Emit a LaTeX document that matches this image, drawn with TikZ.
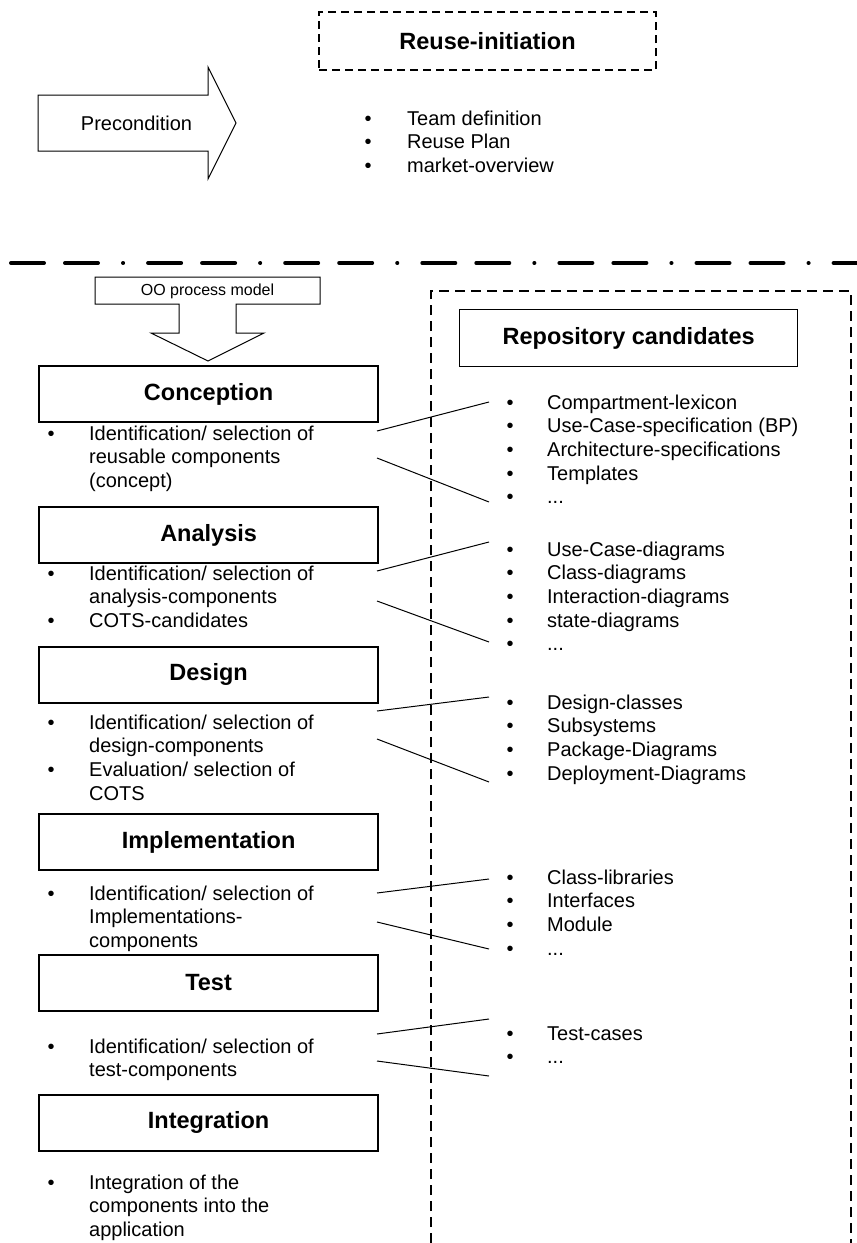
\documentclass[tikz,border=0pt]{standalone}
\usepackage{fontspec}
\setmainfont{Liberation Sans}
\newcommand{\bodyfont}{\fontsize{20}{23.7}\selectfont}
\newcommand{\headfont}{\fontsize{23.5}{28}\selectfont\bfseries}
\tikzset{
  phase/.style={draw, line width=2.2pt, minimum width=339pt, minimum height=56pt,
    inner sep=0pt, font=\headfont, anchor=north west},
  lst/.style={anchor=base west, inner sep=0pt, font=\bodyfont, align=left},
  conn/.style={line width=1pt},
  thinshape/.style={line width=1pt},
}
\begin{document}
\begin{tikzpicture}[x=1pt,y=-1pt]
\useasboundingbox (0,0) rectangle (857,1243);

% top: reuse initiation
\node[draw, line width=2pt, dash pattern=on 8pt off 5pt, minimum width=337pt,
  minimum height=58pt, inner sep=0pt, anchor=north west, font=\headfont]
  (reuse) at (318,11) {Reuse-initiation};

% precondition arrow
\draw[thinshape] (38,95) -- (208,95) -- (208,67) -- (236,123) -- (208,179)
  -- (208,151) -- (38,151) -- cycle;
\node[font=\bodyfont, inner sep=0pt] (precond) at (136.5,123) {Precondition};

\node[lst] (toplist) at (364.5,125) {\begin{tabular}[t]{@{}p{42.5pt}@{}l@{}}
\textbullet & Team definition\\
\textbullet & Reuse Plan\\
\textbullet & market-overview\end{tabular}};

% separator
\coordinate (sepL) at (11,263);
\coordinate (sepR) at (862,263);
\draw[line width=4pt, line cap=round,
  dash pattern=on 33pt off 21pt on 33pt off 25pt on 0.1pt off 25pt] (sepL) -- (sepR);

% OO process model arrow
\draw[thinshape] (95,277) -- (320,277) -- (320,304) -- (236,304) -- (236,333)
  -- (264,333) -- (208,361) -- (151,333) -- (179,333) -- (179,304) -- (95,304) -- cycle;
\node[font=\fontsize{16}{19}\selectfont, inner sep=0pt] (oo) at (207.5,291) {OO process model};

% repository dashed frame
\draw[line width=1.4pt, dash pattern=on 10pt off 6pt] (431,1243) -- (431,291) -- (851,291) -- (851,1243);
\node[draw, line width=1.3pt, minimum width=338pt, minimum height=57pt, inner sep=0pt,
  anchor=north west, font=\headfont] (repo) at (459,309) {Repository candidates};

% phases
\node[phase] (conc) at (38,365) {Conception};
\node[phase] (anal) at (38,506) {Analysis};
\node[phase] (desg) at (38,645.5) {Design};
\node[phase] (impl) at (38,813) {Implementation};
\node[phase] (test) at (38,953.5) {Test};
\node[phase] (intg) at (38,1093.5) {Integration};

% left lists
\node[lst] (lc) at (47.5,440) {\begin{tabular}[t]{@{}p{41.5pt}@{}l@{}}
\textbullet & Identification/ selection of\\
 & reusable components\\
 & (concept)\end{tabular}};
\node[lst] (la) at (47.5,580) {\begin{tabular}[t]{@{}p{41.5pt}@{}l@{}}
\textbullet & Identification/ selection of\\
 & analysis-components\\
\textbullet & COTS-candidates\end{tabular}};
\node[lst] (ld) at (47.5,729) {\begin{tabular}[t]{@{}p{41.5pt}@{}l@{}}
\textbullet & Identification/ selection of\\
 & design-components\\
\textbullet & Evaluation/ selection of\\
 & COTS\end{tabular}};
\node[lst] (li) at (47.5,900) {\begin{tabular}[t]{@{}p{41.5pt}@{}l@{}}
\textbullet & Identification/ selection of\\
 & Implementations-\\
 & components\end{tabular}};
\node[lst] (lt) at (47.5,1053) {\begin{tabular}[t]{@{}p{41.5pt}@{}l@{}}
\textbullet & Identification/ selection of\\
 & test-components\end{tabular}};
\node[lst] (lg) at (47.5,1189) {\begin{tabular}[t]{@{}p{41.5pt}@{}l@{}}
\textbullet & Integration of the\\
 & components into the\\
 & application\end{tabular}};

% right lists
\node[lst] (rc) at (506.5,409) {\begin{tabular}[t]{@{}p{40.5pt}@{}l@{}}
\textbullet & Compartment-lexicon\\
\textbullet & Use-Case-specification (BP)\\
\textbullet & Architecture-specifications\\
\textbullet & Templates\\
\textbullet & ...\end{tabular}};
\node[lst] (ra) at (506.5,556) {\begin{tabular}[t]{@{}p{40.5pt}@{}l@{}}
\textbullet & Use-Case-diagrams\\
\textbullet & Class-diagrams\\
\textbullet & Interaction-diagrams\\
\textbullet & state-diagrams\\
\textbullet & ...\end{tabular}};
\node[lst] (rd) at (506.5,709) {\begin{tabular}[t]{@{}p{40.5pt}@{}l@{}}
\textbullet & Design-classes\\
\textbullet & Subsystems\\
\textbullet & Package-Diagrams\\
\textbullet & Deployment-Diagrams\end{tabular}};
\node[lst] (ri) at (506.5,884) {\begin{tabular}[t]{@{}p{40.5pt}@{}l@{}}
\textbullet & Class-libraries\\
\textbullet & Interfaces\\
\textbullet & Module\\
\textbullet & ...\end{tabular}};
\node[lst] (rt) at (506.5,1040) {\begin{tabular}[t]{@{}p{40.5pt}@{}l@{}}
\textbullet & Test-cases\\
\textbullet & ...\end{tabular}};

% connector end points
\coordinate (c1a) at (377,431);  \coordinate (c1b) at (489,402);
\coordinate (c2a) at (377,458);  \coordinate (c2b) at (489,502);
\coordinate (a1a) at (377,571);  \coordinate (a1b) at (489,542);
\coordinate (a2a) at (377,601);  \coordinate (a2b) at (489,642);
\coordinate (d1a) at (377,711);  \coordinate (d1b) at (489,697);
\coordinate (d2a) at (377,739);  \coordinate (d2b) at (489,782);
\coordinate (i1a) at (377,893);  \coordinate (i1b) at (489,879);
\coordinate (i2a) at (377,922);  \coordinate (i2b) at (489,949);
\coordinate (t1a) at (377,1034); \coordinate (t1b) at (489,1019);
\coordinate (t2a) at (377,1061); \coordinate (t2b) at (489,1076);
\foreach \p in {c1,c2,a1,a2,d1,d2,i1,i2,t1,t2}
  \draw[conn] (\p a) -- (\p b);
\end{tikzpicture}
\end{document}
